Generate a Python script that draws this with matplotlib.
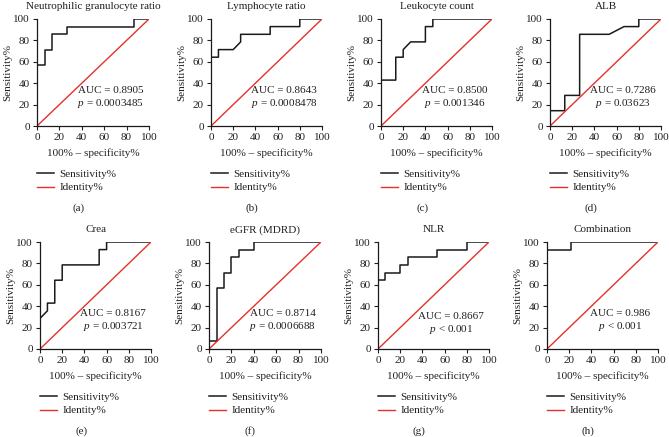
import matplotlib
matplotlib.use("Agg")
from matplotlib import pyplot as plt

plt.rcParams['font.family'] = ['Liberation Serif', 'DejaVu Serif']
plt.rcParams['font.size'] = 8
plt.rcParams['mathtext.fontset'] = 'custom'
plt.rcParams['mathtext.it'] = 'Liberation Serif:italic'
plt.rcParams['mathtext.rm'] = 'Liberation Serif'

TEXT = '#231f20'
RED = '#e4312b'

titles = ["Neutrophilic granulocyte ratio", "Lymphocyte ratio", "Leukocyte count", "ALB",
          "Crea", "eGFR (MDRD)", "NLR", "Combination"]
letters = ["(a)", "(b)", "(c)", "(d)", "(e)", "(f)", "(g)", "(h)"]
auc_text = ["0.8905", "0.8643", "0.8500", "0.7286", "0.8167", "0.8714", "0.8667", "0.986"]
p_text = ["= 0.0003485", "= 0.0008478", "= 0.001346", "= 0.03623",
          "= 0.003721", "= 0.0006688", "< 0.001", "< 0.001"]

# ROC curves, 100% - specificity (x) vs sensitivity (y), in percent
neut_x = [0, 0, 6.7, 6.7, 13.3, 13.3, 26.7, 26.7, 86.7, 86.7, 100]
neut_y = [0, 57.1, 57.1, 71.4, 71.4, 85.7, 85.7, 92.9, 92.9, 100, 100]
lymph_x = [0, 0, 6.7, 6.7, 20, 26.7, 26.7, 53.3, 53.3, 80, 80, 100]
lymph_y = [0, 64.3, 64.3, 71.4, 71.4, 78.6, 85.7, 85.7, 92.9, 92.9, 100, 100]
leuk_x = [0, 0, 13.3, 13.3, 20, 20, 26.7, 40, 40, 46.7, 46.7, 100]
leuk_y = [0, 42.9, 42.9, 64.3, 64.3, 71.4, 78.6, 78.6, 92.9, 92.9, 100, 100]
alb_x = [0, 0, 13.3, 13.3, 26.7, 26.7, 53.3, 66.7, 80, 80, 100]
alb_y = [0, 14.3, 14.3, 28.6, 28.6, 85.7, 85.7, 92.9, 92.9, 100, 100]
crea_x = [0, 0, 6.7, 6.7, 13.3, 13.3, 20, 20, 53.3, 53.3, 60, 60, 100]
crea_y = [0, 28.6, 35.7, 42.9, 42.9, 64.3, 64.3, 78.6, 78.6, 92.9, 92.9, 100, 100]
egfr_x = [0, 0, 6.7, 6.7, 13.3, 13.3, 20, 20, 26.7, 26.7, 40, 40, 100]
egfr_y = [0, 7.1, 7.1, 57.1, 57.1, 71.4, 71.4, 85.7, 85.7, 92.9, 92.9, 100, 100]
nlr_x = [0, 0, 6.7, 6.7, 20, 20, 26.7, 26.7, 53.3, 53.3, 80, 80, 100]
nlr_y = [0, 64.3, 64.3, 71.4, 71.4, 78.6, 78.6, 85.7, 85.7, 92.9, 92.9, 100, 100]
comb_x = [0, 0, 21.4, 21.4, 100]
comb_y = [0, 92.9, 92.9, 100, 100]

curves = [(neut_x, neut_y), (lymph_x, lymph_y), (leuk_x, leuk_y), (alb_x, alb_y),
          (crea_x, crea_y), (egfr_x, egfr_y), (nlr_x, nlr_y), (comb_x, comb_y)]
identity = [0, 100]

W, H = 669, 437
fig = plt.figure(figsize=(W / 100, H / 100), dpi=100)

# axes boxes in pixels: left, top, width, height
boxes = [(37, 19, 112, 107), (211, 19, 111, 107), (381, 19, 111, 107), (550, 19, 111, 107),
         (40, 242, 111, 107), (209, 242, 112, 107), (378, 242, 111, 107), (547, 242, 111, 107)]

for i, (cx, cy) in enumerate(curves):
    l, t, w, h = boxes[i]
    ax = fig.add_axes([l / W, (H - t - h) / H, w / W, h / H])
    ax.plot(cx, cy, color='#1a1a1a', lw=1.1, label="Sensitivity%")
    ax.plot(identity, identity, color=RED, lw=1.0, label="Identity%")
    ax.set_xlim(0, 100)
    ax.set_ylim(0, 100)
    ax.set_xticks(range(0, 101, 20))
    ax.set_yticks(range(0, 101, 20))
    for s in ['top', 'right']:
        ax.spines[s].set_visible(False)
    for s in ['left', 'bottom']:
        ax.spines[s].set_linewidth(0.9)
        ax.spines[s].set_color('#1a1a1a')
    ax.tick_params(length=3, width=0.8, pad=2, colors=TEXT, labelsize=8)
    ax.set_xlabel("100% \u2013 specificity%", color=TEXT, fontsize=8, labelpad=4.5)
    ax.set_ylabel("Sensitivity%", color=TEXT, fontsize=8, labelpad=1)
    ax.set_title(titles[i], color=TEXT, fontsize=8, pad=7)
    ty = 30 if i == 6 else 33
    ax.text(66, ty, "AUC = " + auc_text[i], ha='center', va='center', color=TEXT, fontsize=8)
    ax.text(66, ty - 12, "$p$ " + p_text[i], ha='center', va='center', color=TEXT, fontsize=8)
    ax.legend(loc='upper left', bbox_to_anchor=(0, -0.405), frameon=False, borderpad=0,
              borderaxespad=0, handlelength=1.5, handletextpad=0.5, labelspacing=0.32,
              fontsize=8, labelcolor=TEXT)
    ax.text(0.37, -0.765, letters[i], transform=ax.transAxes, ha='center', va='center',
            color=TEXT, fontsize=8)

fig.savefig("out.png", dpi=100)
